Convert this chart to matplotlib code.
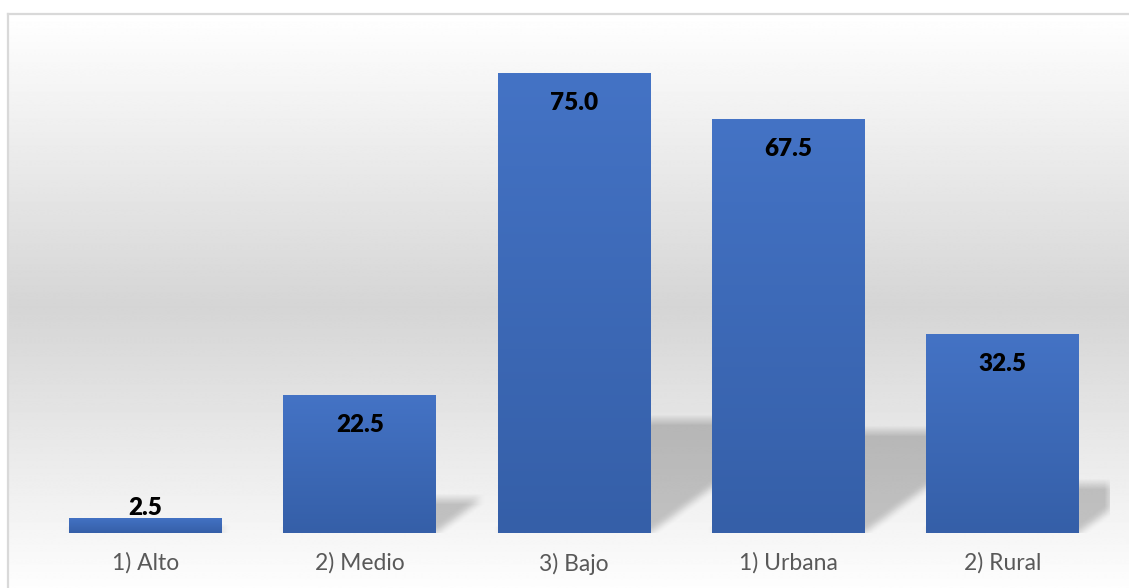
import matplotlib
matplotlib.use('Agg')
import matplotlib.pyplot as plt
from matplotlib.colors import LinearSegmentedColormap
import numpy as np

categories = ['1) Alto', '2) Medio', '3) Bajo', '1) Urbana', '2) Rural']
values = [2.5, 22.5, 75.0, 67.5, 32.5]

W, H = 1129, 588
BAR_W = 0.714
YMAX = 80
SHADOW_H = 0.245      # shadow height as fraction of bar height
SHADOW_SKEW = 0.0095  # horizontal shift (x units) per value unit

plt.rcParams['font.family'] = ['Lato', 'DejaVu Sans']

fig = plt.figure(figsize=(W / 100, H / 100), dpi=100)
fig.patch.set_facecolor('white')

# chart-area background: white -> gray -> white gradient
bg = fig.add_axes([0, 0, 1, 1], zorder=0)
bg.set_xlim(0, W)
bg.set_ylim(H, 0)
bg.axis('off')
yy = np.linspace(14, 600, 600)
t = 1 - np.abs(yy - 307) / 293
shade = 1 - t * (42 / 255)
grad = np.repeat(shade[:, None], 2, axis=1)
bg.imshow(grad, cmap='gray', vmin=0, vmax=1, extent=(8, W, 600, 14),
          aspect='auto', interpolation='bilinear')
bg.plot([8, 8], [14, H], color='#d9d9d9', lw=1.6)
bg.plot([8, W], [14, 14], color='#d9d9d9', lw=1.6)

# main axes
left, right, bottom = 38.4, 1109.6, 533
ax = fig.add_axes([left / W, (H - bottom) / H, (right - left) / W,
                   (YMAX * 6.133) / H], zorder=1)
ax.patch.set_visible(False)
for sp in ax.spines.values():
    sp.set_visible(False)

x = np.arange(len(categories))
ax.set_xlim(-0.5, len(categories) - 0.5)
ax.set_ylim(0, YMAX)

# soft floor shadows behind bars
nx, ny = 1071, 491
gx = np.linspace(-0.5, len(categories) - 0.5, nx)
gy = np.linspace(0, YMAX, ny)
GX, GY = np.meshgrid(gx, gy)
mask = np.zeros_like(GX)
for xi, v in zip(x, values):
    h = SHADOW_H * v
    s = SHADOW_SKEW * v
    frac = np.clip(GY / h, 0, 1)
    inside = (GY <= h) & (GX >= xi - BAR_W / 2 + s * frac) & (GX <= xi + BAR_W / 2 + s * frac)
    mask[inside] = 1.0
k = np.ones(11) / 11
mask = np.apply_along_axis(lambda r: np.convolve(r, k, mode='same'), 1, mask)
mask = np.apply_along_axis(lambda c: np.convolve(c, k, mode='same'), 0, mask)
rgba = np.zeros((ny, nx, 4))
rgba[..., 3] = 0.21 * mask
ax.imshow(rgba, extent=(-0.5, len(categories) - 0.5, 0, YMAX), origin='lower',
          aspect='auto', zorder=1, interpolation='bilinear')

# bars with vertical gradient
bars = ax.bar(x, values, width=BAR_W, color='#4472c4', zorder=2)
cmap = LinearSegmentedColormap.from_list('bar', ['#355fa8', '#4473c5'])
col = np.linspace(0, 1, 256)[:, None]
for b in bars:
    im = ax.imshow(col, cmap=cmap, origin='lower', aspect='auto', zorder=3,
                   extent=(b.get_x(), b.get_x() + b.get_width(), 0, b.get_height()))
    im.set_clip_path(b)

for xi, v in zip(x, values):
    off = -30 if v >= 10 else 10
    ax.annotate(f'{v:.1f}', (xi, v), xytext=(0, off), textcoords='offset pixels',
                ha='center', va='center', fontsize=17.5, fontweight='heavy',
                color='black', zorder=4)

ax.set_xlim(-0.5, len(categories) - 0.5)
ax.set_ylim(0, YMAX)
ax.set_yticks([])
ax.set_xticks(x)
ax.set_xticklabels(categories, fontsize=16.5, color='#595959')
ax.tick_params(axis='x', length=0, pad=14)

fig.savefig('out.png', dpi=100)
